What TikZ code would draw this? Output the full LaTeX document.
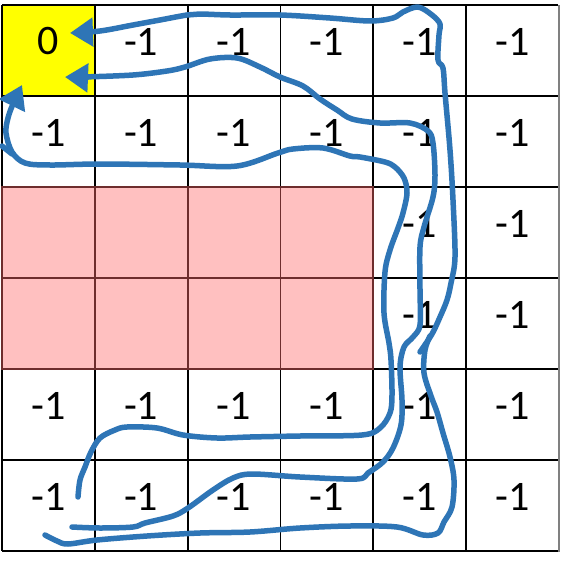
\documentclass[tikz,border=0pt]{standalone}
\usepackage{fontspec}
\setmainfont{Carlito}
\usetikzlibrary{arrows.meta}
\definecolor{pathblue}{RGB}{46,117,182}
\definecolor{cellpink}{RGB}{255,192,192}
\definecolor{pinkline}{RGB}{110,45,45}
\definecolor{cellyellow}{RGB}{255,255,0}
\tikzset{
  gridline/.style={draw=black,line width=1.8pt},
  pinkcell/.style={fill=cellpink,draw=pinkline,line width=1.8pt},
  celltext/.style={font=\fontsize{42}{50}\selectfont,inner sep=0pt},
  route/.style={draw=pathblue,line width=5.5pt,line cap=round,line join=round},
  routearrow/.style={route,-{Triangle[length=23pt,width=28pt]}}
}
\begin{document}
\begin{tikzpicture}[x=1pt,y=-1pt]
\useasboundingbox (0,0) rectangle (561,562);
\fill[white] (0,0) rectangle (561,562);
% yellow start cell
\fill[cellyellow] (2,5) rectangle (94.8,96);
% grid lines
\foreach \i in {0,...,5} \draw[gridline] ({2+92.8*\i},5) -- ({2+92.8*\i},551);
\draw[draw=gray,line width=1.8pt] (559,5) -- (559,552);
\foreach \j in {0,...,6} \draw[gridline] (2,{5+91*\j}) -- (558,{5+91*\j});
% pink obstacle cells
\foreach \c in {0,...,3} \foreach \r in {2,3}
  \draw[pinkcell] ({2+92.8*\c},{5+91*\r}) rectangle ({2+92.8*(\c+1)},{5+91*(\r+1)});
% cell texts
\node[celltext] (n11) at ({2+92.8*0.5},{5+91*0.5-9}) {0};
\foreach \r/\c in {1/2,1/3,1/4,1/5,1/6,
                   2/1,2/2,2/3,2/4,2/5,2/6,
                   3/5,3/6,4/5,4/6,
                   5/1,5/2,5/3,5/4,5/5,5/6,
                   6/1,6/2,6/3,6/4,6/5,6/6}
  \node[celltext] (n\r\c) at ({2+92.8*(\c-0.5)},{5+91*(\r-0.5)-9}) {-1};
% outer route, lower part
\draw[route] plot[smooth,tension=0.55] coordinates {
 (45,535) (57,541) (68,544) (97,540) (147,536) (200,533) (250,532) (300,528)
 (350,526) (397,527) (423,535) (438,533) (444,522) (452,507) (454,480)
 (450,457) (443,433) (437,412) (431,396) (424,373) (425,350) (430,336)};
% outer route, upper part with arrow
\draw[routearrow] plot[smooth,tension=0.55] coordinates {
 (420,352) (432,334) (440,317) (447,300) (451,283) (455,257) (453,200)
 (450,150) (445,93) (443,68) (438,60) (439,35) (440,24) (432,15) (418,7)
 (403,12) (393,18) (370,21) (330,18) (280,15) (230,15) (200,14) (187,15)
 (160,20) (133,25) (100,31) (70,33)};
% middle route
\draw[routearrow] plot[smooth,tension=0.55] coordinates {
 (72,527) (100,528) (133,527) (145,523) (173,516) (188,508) (213,490)
 (233,478) (252,474) (300,477) (357,479) (368,473) (383,462) (393,448)
 (401,425) (402,400) (400,367) (404,347) (413,337) (420,325) (420,290)
 (420,247) (424,227) (433,197) (435,175) (433,143) (428,131) (410,123)
 (380,123) (352,119) (337,110) (320,99) (303,86) (280,77) (260,67)
 (237,58) (210,59) (185,67) (167,71) (133,75) (83,77) (65,77)};
% inner route
\draw[routearrow] plot[smooth,tension=0.55] coordinates {
 (78,497) (80,480) (85,467) (91,452) (100,438) (115,430) (127,427)
 (157,428) (183,435) (217,438) (250,437) (300,436) (362,435) (380,428)
 (390,413) (392,395) (391,360) (389,343) (384,313) (385,272) (390,250)
 (398,228) (403,213) (407,193) (404,178) (395,167) (385,162) (360,157)
 (350,156) (323,148) (293,149) (278,153) (237,166) (180,165) (100,164)
 (50,165) (25,163) (12,152) (6,133) (8,118) (13,104) (22,85)};
\coordinate (stubA) at (2,146);
\coordinate (stubB) at (12,154);
\draw[route] (stubA) -- (stubB);
\end{tikzpicture}
\end{document}
